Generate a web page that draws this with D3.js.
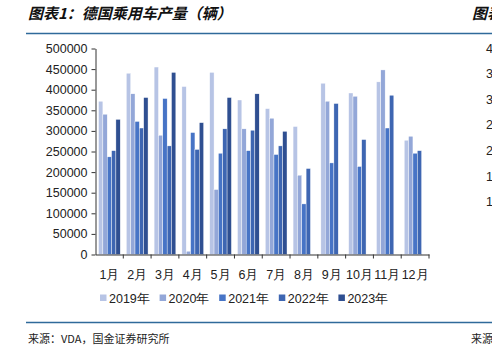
<!DOCTYPE html>
<html>
<head>
<meta charset="utf-8">
<script src="https://cdn.jsdelivr.net/npm/d3@7"></script>
<style>
  html, body { margin: 0; padding: 0; background: #fff; }
  svg { display: block; }
</style>
</head>
<body>
<svg id="chart" width="492" height="351"></svg>
<script>
const months = ["1月","2月","3月","4月","5月","6月","7月","8月","9月","10月","11月","12月"];
const years = ["2019年","2020年","2021年","2022年","2023年"];
const v2019 = [372000,440000,455000,407700,442000,375000,354000,310600,415700,392000,419000,277400];
const v2020 = [340500,390000,289500,8000,157700,305000,330800,192500,372000,384000,448000,287000];
const v2021 = [237000,323000,378600,296000,245800,252000,242700,122800,222300,213600,307000,245800];
const v2022 = [252000,307000,263600,255000,305000,301700,263600,208700,366500,279000,386600,252000];
const v2023 = [328000,381000,442000,320000,381000,390000,299000,null,null,null,null,null];
const yTicks = [0,50000,100000,150000,200000,250000,300000,350000,400000,450000,500000];
// left edge of the next chart, cut off by the page
const nextTicks = ["400000","350000","300000","250000","200000","150000","100000"];
const colors = ["#b7c4e5","#93a7d8","#4774c6","#3e66b2","#2f4f91"];

const series = [v2019, v2020, v2021, v2022, v2023];
const svg = d3.select("#chart");
const font = "'Liberation Sans', Arial, sans-serif";
const cjk = "'Noto Sans CJK SC', sans-serif";

// header
svg.append("text")
    .attr("x", 28).attr("y", 19)
    .attr("font-family", cjk).attr("font-size", 15)
    .attr("font-weight", "bold").attr("font-style", "italic")
    .attr("fill", "#111")
    .text("图表1：德国乘用车产量（辆）");
svg.append("text")
    .attr("x", 472).attr("y", 19)
    .attr("font-family", cjk).attr("font-size", 15)
    .attr("font-weight", "bold").attr("font-style", "italic")
    .attr("fill", "#111")
    .text("图表2");
svg.append("line")
    .attr("x1", 26).attr("x2", 492).attr("y1", 33.5).attr("y2", 33.5)
    .attr("stroke", "#2f6a9a").attr("stroke-width", 1.5);

// footer
svg.append("line")
    .attr("x1", 26).attr("x2", 492).attr("y1", 322.5).attr("y2", 322.5)
    .attr("stroke", "#2f6a9a").attr("stroke-width", 1.5);
svg.append("text")
    .attr("x", 28).attr("y", 343)
    .attr("font-family", cjk).attr("font-size", 11)
    .attr("fill", "#222")
    .text("来源：VDA，国金证券研究所");
svg.append("text")
    .attr("x", 471).attr("y", 343)
    .attr("font-family", cjk).attr("font-size", 11)
    .attr("fill", "#222")
    .text("来源");

const x = d3.scaleBand()
    .domain(months)
    .range([95.5, 429])
    .padding(0);

const xi = d3.scaleBand()
    .domain(years)
    .range([0, x.bandwidth()])
    .paddingInner(0)
    .paddingOuter(0.7);

const y = d3.scaleLinear()
    .domain([0, 500000])
    .range([254.5, 48.5]);

const table = months.map((m, i) => ({
    month: m,
    values: years.map((yr, j) => ({year: yr, idx: j, value: series[j][i]}))
}));

const groups = svg.append("g").attr("class", "bars")
    .selectAll("g")
    .data(table)
    .enter()
    .append("g")
    .attr("transform", d => `translate(${x(d.month)},0)`);

groups.selectAll("rect")
    .data(d => d.values.filter(v => v.value != null))
    .enter()
    .append("rect")
    .attr("x", d => xi(d.year))
    .attr("width", xi.bandwidth())
    .attr("y", d => y(d.value))
    .attr("height", d => y(0) - y(d.value))
    .attr("fill", d => colors[d.idx])
    .attr("stroke", "#fff")
    .attr("stroke-width", 0.4);

// y axis
const yAxis = d3.axisLeft(y).tickValues(yTicks).tickSize(4).tickSizeOuter(0).tickFormat(d3.format("d"));
const yAxisGroup = svg.append("g")
    .attr("class", "yAxis")
    .attr("transform", `translate(95.5,0)`)
    .call(yAxis);
yAxisGroup.selectAll("text")
    .attr("font-family", font).attr("font-size", 12.5).attr("fill", "#222")
    .attr("x", -8);
yAxisGroup.selectAll("path, line").attr("stroke", "#333");

// x axis
const xAxis = d3.axisBottom(x).tickSize(0).tickSizeOuter(0);
const xAxisGroup = svg.append("g")
    .attr("class", "xAxis")
    .attr("transform", `translate(0,254.5)`)
    .call(xAxis);
xAxisGroup.selectAll("text")
    .attr("font-family", font).attr("font-size", 12.5).attr("fill", "#222")
    .attr("dy", "1.75em");
xAxisGroup.select("path").attr("stroke", "#333").attr("stroke-width", 1.2);
xAxisGroup.selectAll("line.boundary")
    .data(months)
    .enter()
    .append("line")
    .attr("class", "boundary")
    .attr("x1", d => x(d) + x.step()).attr("x2", d => x(d) + x.step())
    .attr("y1", 0).attr("y2", 4)
    .attr("stroke", "#333");

// legend
const legend = svg.append("g").attr("class", "legend")
    .selectAll("g")
    .data(years)
    .enter()
    .append("g")
    .attr("transform", (d, i) => `translate(${100 + i * 59.6},298)`);
legend.append("rect")
    .attr("x", 0).attr("y", -3.5)
    .attr("width", 6.5).attr("height", 6.5)
    .attr("fill", (d, i) => colors[i]);
legend.append("text")
    .attr("x", 9).attr("y", 0).attr("dy", "0.36em")
    .attr("font-family", font).attr("font-size", 12.5).attr("fill", "#222")
    .text(d => d);

// sliver of the neighbouring chart's y labels
svg.append("g")
    .selectAll("text")
    .data(nextTicks)
    .enter()
    .append("text")
    .attr("x", 486)
    .attr("y", (d, i) => 48 + i * 25.6)
    .attr("dy", "0.36em")
    .attr("font-family", font).attr("font-size", 12.5).attr("fill", "#222")
    .text(d => d);
</script>
</body>
</html>
